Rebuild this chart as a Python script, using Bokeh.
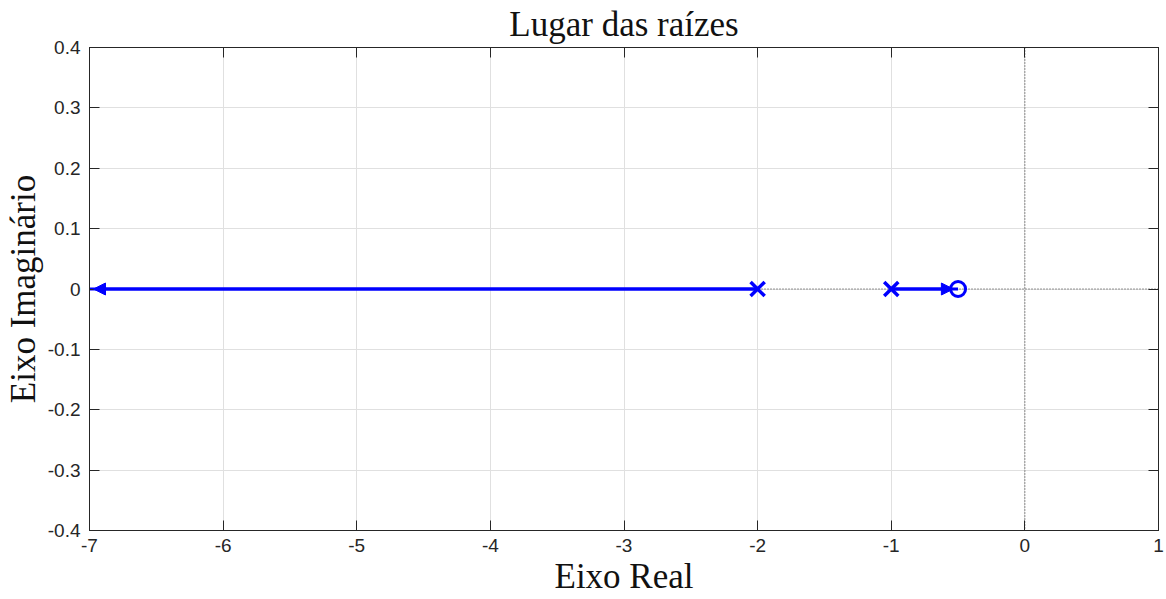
from bokeh.plotting import figure
from bokeh.models import (Range1d, LinearAxis, FixedTicker, Span, Arrow,
                          NormalHead, CustomLabelingPolicy)
from bokeh.embed import file_html
from bokeh.resources import INLINE

# Open-loop poles and zeros (real axis)
pole_re = [-2.0, -1.0]
pole_im = [0.0, 0.0]
zero_re = [-0.5]
zero_im = [0.0]

# Root-locus branches on the real axis (start at a pole, end at zero / -inf)
branch1_re = [-2.0, -7.0]
branch1_im = [0.0, 0.0]
branch2_re = [-1.0, -0.5]
branch2_im = [0.0, 0.0]

x_ticks = [-7, -6, -5, -4, -3, -2, -1, 0, 1]
x_labels = ["-7", "-6", "-5", "-4", "-3", "-2", "-1", "0", "1"]
y_ticks = [-0.4, -0.3, -0.2, -0.1, 0.0, 0.1, 0.2, 0.3, 0.4]
y_labels = ["-0.4", "-0.3", "-0.2", "-0.1", "0", "0.1", "0.2", "0.3", "0.4"]

BLUE = "#0000ff"
SERIF = "Liberation Serif"
SANS = "Liberation Sans"
INK = "#262626"

p = figure(width=1166, height=599, output_backend="svg", toolbar_location=None,
           x_range=Range1d(-7, 1), y_range=Range1d(-0.4, 0.4),
           min_border_left=89, min_border_right=8, min_border_top=47,
           min_border_bottom=69, x_axis_location=None, y_axis_location=None)

p.title.text = "Lugar das raízes"
p.title.align = "center"
p.title.text_font = SERIF
p.title.text_font_size = "35px"
p.title.text_font_style = "normal"
p.title.text_color = "#111111"
p.title.standoff = 0
p.title.offset = 8
p.outline_line_color = "black"
p.background_fill_color = "white"
p.border_fill_color = "white"

# hides labels on the mirrored top/right axes
no_labels = CustomLabelingPolicy(
    code="const a = [...indices]; for (const i of a) indices.unset(i); return indices")


def make_axis(ticks, labels, show_labels):
    ax = LinearAxis(ticker=FixedTicker(ticks=ticks))
    ax.major_label_overrides = {t: l for t, l in zip(ticks, labels)}
    ax.major_tick_in = 10
    ax.major_tick_out = 0
    ax.minor_tick_in = 0
    ax.minor_tick_out = 0
    ax.axis_line_color = INK
    ax.major_tick_line_color = INK
    ax.major_label_text_font = SANS
    ax.major_label_text_color = INK
    if show_labels:
        ax.major_label_text_font_size = "19px"
    else:
        ax.major_label_policy = no_labels
        ax.major_label_text_font_size = "1px"
        ax.major_label_standoff = 0
    return ax


def label_axis(ax, text, standoff):
    ax.axis_label = text
    ax.axis_label_text_font = SERIF
    ax.axis_label_text_font_size = "35px"
    ax.axis_label_text_font_style = "normal"
    ax.axis_label_text_color = "#111111"
    ax.axis_label_standoff = standoff


xb = make_axis(x_ticks, x_labels, True)
xb.major_label_standoff = 8
label_axis(xb, "Eixo Real", 2)
yl = make_axis(y_ticks, y_labels, True)
yl.major_label_standoff = 9
label_axis(yl, "Eixo Imaginário", 2)
xt = make_axis(x_ticks, x_labels, False)
yr = make_axis(y_ticks, y_labels, False)
p.add_layout(xb, "below")
p.add_layout(yl, "left")
p.add_layout(xt, "above")
p.add_layout(yr, "right")

p.xgrid.ticker = FixedTicker(ticks=x_ticks)
p.ygrid.ticker = FixedTicker(ticks=y_ticks)
for g in (p.xgrid, p.ygrid):
    g.grid_line_color = "#e0e0e0"
    g.grid_line_width = 1

# Real and imaginary reference axes
p.add_layout(Span(location=0, dimension="width", line_color="#333333",
                  line_width=1, line_dash="1 2", level="underlay"))
p.add_layout(Span(location=0, dimension="height", line_color="#333333",
                  line_width=1, line_dash="1 2", level="underlay"))

# Locus branches
p.line(branch1_re, branch1_im, line_color=BLUE, line_width=3)
p.line(branch2_re, branch2_im, line_color=BLUE, line_width=3)

# Direction arrows near the end of each branch
p.add_layout(Arrow(end=NormalHead(size=12, fill_color=BLUE, line_color=BLUE, line_width=1),
                   x_start=branch1_re[0], y_start=branch1_im[0],
                   x_end=branch1_re[-1] + 0.03, y_end=branch1_im[-1],
                   line_color=BLUE, line_width=3))
p.add_layout(Arrow(end=NormalHead(size=12, fill_color=BLUE, line_color=BLUE, line_width=1),
                   x_start=branch2_re[0], y_start=branch2_im[0],
                   x_end=branch2_re[-1] - 0.035, y_end=branch2_im[-1],
                   line_color=BLUE, line_width=3))

# Poles (x) and zeros (o)
p.scatter(pole_re, pole_im, marker="x", size=20, line_color=BLUE, line_width=3.5)
p.scatter(zero_re, zero_im, marker="circle", size=15, line_color=BLUE,
          line_width=3, fill_color=None)

open("out.html", "w").write(file_html(p, INLINE))
